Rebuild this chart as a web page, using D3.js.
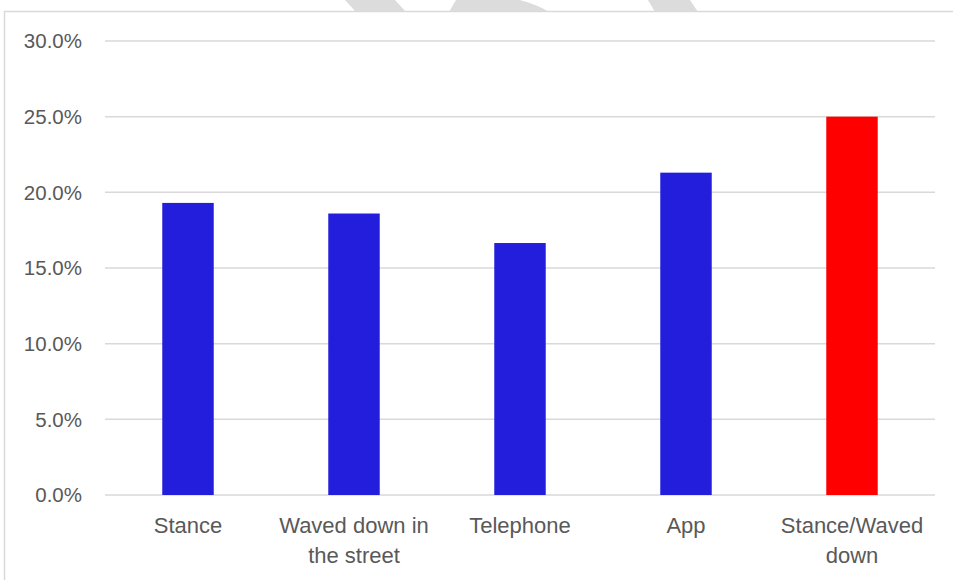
<!DOCTYPE html>
<html>
<head>
<meta charset="utf-8">
<script src="https://cdn.jsdelivr.net/npm/d3@7"></script>
<style>
  html, body { margin: 0; padding: 0; background: #fff; }
  svg { display: block; }
</style>
</head>
<body>
<svg id="chart" width="953" height="580"></svg>
<script>
// Share of trips by booking method
const categories = [["Stance"], ["Waved down in", "the street"], ["Telephone"], ["App"], ["Stance/Waved", "down"]];
const values = [19.3, 18.6, 16.65, 21.3, 25.0];
const barColors = ["#221edb", "#221edb", "#221edb", "#221edb", "#ff0000"];
const yTicks = [0, 5, 10, 15, 20, 25, 30];

const svg = d3.select("#chart");
const W = 953, H = 580;
const plot = { left: 105, right: 935, top: 41, bottom: 495 };
const font = "'Liberation Sans', Arial, sans-serif";

// background watermark shapes peeking above the chart frame
const wm = svg.append("g").attr("fill", "#dcdcdc");
wm.append("path").attr("d", "M345,0 L395,0 L406,12 L356,12 Z");
wm.append("path").attr("d", "M456,0 L520,0 Q538,5 549,12 L449,12 Z");
wm.append("path").attr("d", "M648,0 L690,0 L698,12 L655,12 Z");

// chart frame
svg.append("rect")
  .attr("x", 4.5).attr("y", 11.5)
  .attr("width", W + 20).attr("height", H + 20)
  .attr("fill", "#fff").attr("stroke", "#d9d9d9").attr("stroke-width", 1.5);

const idx = d3.range(categories.length);
const x = d3.scaleBand().domain(idx).range([plot.left, plot.right]).paddingInner(0.69).paddingOuter(0.345);
const y = d3.scaleLinear().domain([0, 30]).range([plot.bottom, plot.top]);

// horizontal gridlines
svg.append("g")
  .selectAll("line")
  .data(yTicks)
  .join("line")
  .attr("x1", plot.left).attr("x2", plot.right)
  .attr("y1", d => y(d)).attr("y2", d => y(d))
  .attr("stroke", "#d9d9d9").attr("stroke-width", 1.5);

// y tick labels
svg.append("g")
  .selectAll("text")
  .data(yTicks)
  .join("text")
  .attr("x", 82).attr("y", d => y(d))
  .attr("dy", "0.36em")
  .attr("text-anchor", "end")
  .attr("font-family", font).attr("font-size", 20.5)
  .attr("fill", "#595959")
  .text(d => d3.format(".1f")(d) + "%");

// bars
svg.append("g")
  .selectAll("rect")
  .data(idx)
  .join("rect")
  .attr("x", i => x(i))
  .attr("width", x.bandwidth())
  .attr("y", i => y(values[i]))
  .attr("height", i => y(0) - y(values[i]))
  .attr("fill", i => barColors[i]);

// category labels
const labels = svg.append("g")
  .selectAll("text")
  .data(idx)
  .join("text")
  .attr("x", i => x(i) + x.bandwidth() / 2)
  .attr("y", 533)
  .attr("text-anchor", "middle")
  .attr("font-family", font).attr("font-size", 22)
  .attr("fill", "#595959");
labels.selectAll("tspan")
  .data(i => categories[i].map((t, k) => ({ t, k, i })))
  .join("tspan")
  .attr("x", d => x(d.i) + x.bandwidth() / 2)
  .attr("dy", d => d.k === 0 ? 0 : 30)
  .text(d => d.t);
</script>
</body>
</html>
